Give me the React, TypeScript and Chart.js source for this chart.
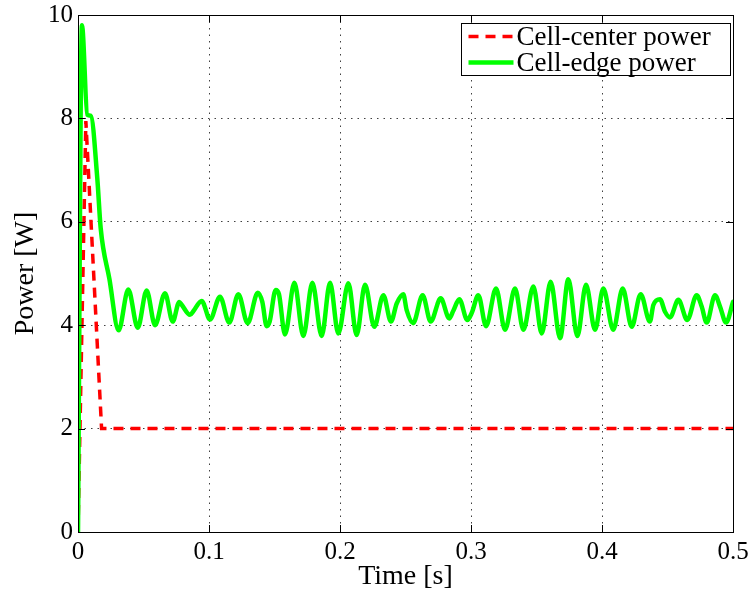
import React, { useEffect, useRef } from 'react';
import { Chart, registerables } from 'chart.js';

Chart.register(...registerables);

// Cell-edge power (green, solid)
const edgeTime = [
  0, 0.003, 0.0071, 0.0098, 0.0147, 0.0173, 0.024, 0.031, 0.0384, 0.0456, 0.0524,
  0.0588, 0.0664, 0.0723, 0.0773, 0.079, 0.0855, 0.088, 0.0944, 0.1008, 0.1084,
  0.1155, 0.1224, 0.1295, 0.1373, 0.1407, 0.144, 0.1463, 0.1509, 0.1534, 0.158,
  0.1652, 0.172, 0.1789, 0.186, 0.1924, 0.1987, 0.2064, 0.2127, 0.2191, 0.2262,
  0.2331, 0.2389, 0.2433, 0.2483, 0.2509, 0.2558, 0.2631, 0.2692, 0.2769, 0.2834,
  0.2865, 0.2911, 0.2972, 0.3006, 0.3056, 0.3115, 0.3191, 0.326, 0.3336, 0.34,
  0.3476, 0.354, 0.3608, 0.368, 0.3743, 0.3812, 0.3878, 0.3947, 0.401, 0.4086,
  0.4158, 0.4227, 0.4295, 0.4366, 0.4392, 0.4443, 0.4481, 0.4519, 0.4583, 0.4651,
  0.4723, 0.4761, 0.4799, 0.4863, 0.4901, 0.4947, 0.5,
];
const edgePower = [
  0, 9.8, 8.07, 8.05, 6.85, 5.88, 4.89, 3.9, 4.69, 3.95, 4.67,
  4.0, 4.62, 4.07, 4.45, 4.4, 4.2, 4.27, 4.47, 4.11, 4.55,
  4.05, 4.6, 4.04, 4.63, 4.45, 3.98, 4.07, 4.68, 4.6, 3.82,
  4.82, 3.79, 4.82, 3.79, 4.82, 3.84, 4.81, 3.81, 4.78, 3.97,
  4.58, 4.07, 4.42, 4.6, 4.29, 4.04, 4.58, 4.07, 4.52, 4.13,
  4.28, 4.5, 4.1, 4.24, 4.58, 3.98, 4.71, 3.91, 4.71, 3.91,
  4.75, 3.84, 4.84, 3.75, 4.89, 3.79, 4.78, 3.91, 4.71, 3.91,
  4.71, 3.97, 4.6, 4.07, 4.39, 4.5, 4.26, 4.15, 4.49, 4.1,
  4.58, 4.36, 4.05, 4.58, 4.36, 4.05, 4.45,
];

// Cell-center power (red, dashed)
const centerTime = [0, 0.006, 0.018, 0.5];
const centerPower = [0, 7.95, 2, 2];

const xTicks = [0, 0.1, 0.2, 0.3, 0.4, 0.5];
const yTicks = [0, 2, 4, 6, 8, 10];
const seriesLabels = ['Cell-center power', 'Cell-edge power'];
const xTitle = 'Time [s]';
const yTitle = 'Power [W]';

const FONT = '"Liberation Serif", "Times New Roman", serif';
const RED = '#ff0000';
const GREEN = '#00ff00';

const framePlugin = {
  id: 'frameAndLegend',
  afterDatasetsDraw(chart: any) {
    const { ctx, chartArea: a, scales } = chart;
    ctx.save();
    ctx.setLineDash([]);
    ctx.strokeStyle = '#000';
    ctx.lineWidth = 1;
    // frame
    ctx.strokeRect(Math.round(a.left) + 0.5, Math.round(a.top) + 0.5,
      Math.round(a.right - a.left), Math.round(a.bottom - a.top));
    // inward ticks
    const tl = 7;
    ctx.beginPath();
    xTicks.forEach((v) => {
      const px = Math.round(scales.x.getPixelForValue(v)) + 0.5;
      ctx.moveTo(px, a.bottom); ctx.lineTo(px, a.bottom - tl);
      ctx.moveTo(px, a.top); ctx.lineTo(px, a.top + tl);
    });
    yTicks.forEach((v) => {
      const py = Math.round(scales.y.getPixelForValue(v)) + 0.5;
      ctx.moveTo(a.left, py); ctx.lineTo(a.left + tl, py);
      ctx.moveTo(a.right, py); ctx.lineTo(a.right - tl, py);
    });
    ctx.stroke();

    // legend box
    const bx = Math.round(a.right) - 271.5;
    const by = Math.round(a.top) + 8.5;
    const bw = 269;
    const bh = 52;
    ctx.fillStyle = '#fff';
    ctx.fillRect(bx, by, bw, bh);
    ctx.strokeRect(bx, by, bw, bh);
    const rows = [
      { color: RED, dash: [10, 7], width: 3.5 },
      { color: GREEN, dash: [], width: 4.5 },
    ];
    rows.forEach((r, i) => {
      const cy = by + 13 + i * 26;
      ctx.beginPath();
      ctx.strokeStyle = r.color;
      ctx.lineWidth = r.width;
      ctx.setLineDash(r.dash);
      ctx.moveTo(bx + 7, cy);
      ctx.lineTo(bx + 52, cy);
      ctx.stroke();
      ctx.setLineDash([]);
      ctx.fillStyle = '#000';
      ctx.font = `27px ${FONT}`;
      ctx.textBaseline = 'middle';
      ctx.textAlign = 'left';
      ctx.fillText(seriesLabels[i], bx + 55, cy + 1);
    });
    ctx.restore();
  },
};

export default function App() {
  const ref = useRef<HTMLCanvasElement | null>(null);

  useEffect(() => {
    document.body.style.margin = '0';
    const canvas = ref.current!;
    const chart = new Chart(canvas, {
      type: 'line',
      data: {
        datasets: [
          {
            label: seriesLabels[0],
            data: centerTime.map((t, i) => ({ x: t, y: centerPower[i] })),
            borderColor: RED,
            backgroundColor: RED,
            borderWidth: 3.5,
            borderDash: [10, 7],
            pointRadius: 0,
            tension: 0,
            order: 2,
          },
          {
            label: seriesLabels[1],
            data: edgeTime.map((t, i) => ({ x: t, y: edgePower[i] })),
            borderColor: GREEN,
            backgroundColor: GREEN,
            borderWidth: 4.5,
            pointRadius: 0,
            cubicInterpolationMode: 'monotone',
            order: 1,
            borderJoinStyle: 'round',
            borderCapStyle: 'round',
          },
        ],
      },
      options: {
        animation: false,
        responsive: false,
        devicePixelRatio: 1,
        layout: { padding: { top: 15, right: 15, left: 0, bottom: 0 } },
        plugins: { legend: { display: false }, tooltip: { enabled: false } },
        scales: {
          x: {
            type: 'linear',
            min: 0,
            max: 0.5,
            afterBuildTicks: (s: any) => { s.ticks = xTicks.map((v) => ({ value: v })); },
            afterFit: (s: any) => { s.height = 60; s.paddingLeft = 0; s.paddingRight = 0; },
            ticks: {
              color: '#000',
              font: { family: FONT, size: 25 },
              padding: 5,
              maxRotation: 0,
              autoSkip: false,
              callback: (v: any) => String(Math.round(Number(v) * 10) / 10),
            },
            grid: { color: 'rgba(0,0,0,0.75)', lineWidth: 1, drawTicks: false },
            border: { display: false, dash: [1.5, 5] },
            title: {
              display: true,
              text: xTitle,
              color: '#000',
              font: { family: FONT, size: 28, lineHeight: 1.1 },
              padding: { top: 0, bottom: 0 },
            },
          },
          y: {
            type: 'linear',
            min: 0,
            max: 10,
            afterBuildTicks: (s: any) => { s.ticks = yTicks.map((v) => ({ value: v })); },
            afterFit: (s: any) => { s.width = 78; s.paddingTop = 0; s.paddingBottom = 0; },
            ticks: {
              color: '#000',
              font: { family: FONT, size: 25 },
              padding: 5,
              autoSkip: false,
            },
            grid: { color: 'rgba(0,0,0,0.75)', lineWidth: 1, drawTicks: false },
            border: { display: false, dash: [1.5, 5] },
            title: {
              display: true,
              text: yTitle,
              color: '#000',
              font: { family: FONT, size: 28, lineHeight: 1.1 },
              padding: { top: 10, bottom: 0 },
            },
          },
        },
      },
      plugins: [framePlugin],
    } as any);
    return () => chart.destroy();
  }, []);

  return (
    <div style={{ position: 'absolute', left: 0, top: 0, width: 748, height: 592, background: '#fff' }}>
      <canvas ref={ref} width={748} height={592} style={{ display: 'block', width: 748, height: 592 }} />
    </div>
  );
}
